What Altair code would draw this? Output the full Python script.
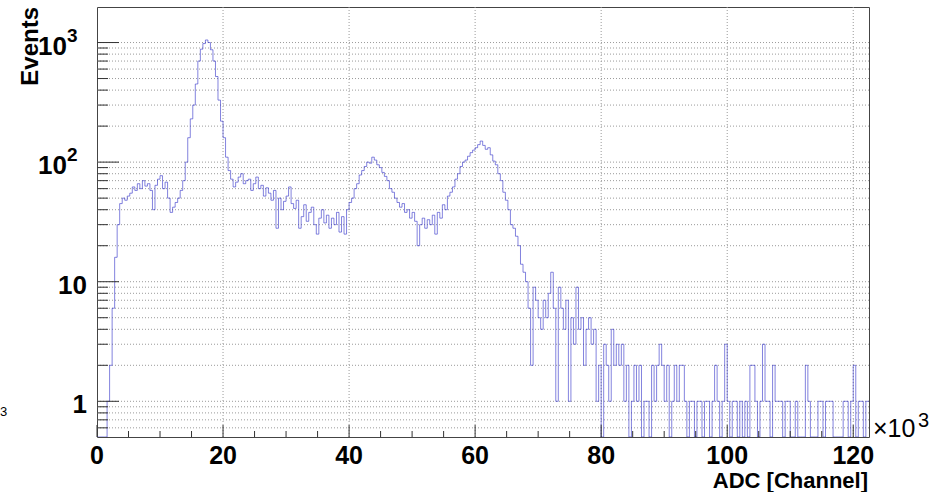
import altair as alt
import pandas as pd

# ---------------- data ----------------
BIN_WIDTH_K = 0.4  # bin width in units of 10^3 channels
COUNTS = [
    # 0-4k
    0, 0, 0, 0, 1, 2, 6, 16, 30, 45,
    # 4-8k
    50, 48, 52, 55, 62, 58, 66, 60, 70, 63,
    # 8-12k
    66, 58, 40, 64, 72, 77, 60, 68, 50, 38,
    # 12-16k
    42, 46, 50, 58, 70, 100, 160, 230, 300, 450,
    # 16-20k
    700, 880, 980, 1050, 1000, 870, 700, 520, 330, 220,
    # 20-24k
    160, 110, 85, 72, 62, 68, 75, 80, 66, 70,
    # 24-28k
    72, 58, 66, 75, 60, 64, 52, 61, 55, 48,
    # 28-32k
    58, 28, 50, 40, 47, 52, 62, 45, 41, 48,
    # 32-36k
    28, 35, 44, 32, 38, 42, 30, 25, 34, 40,
    # 36-40k
    31, 36, 28, 34, 30, 38, 26, 35, 25, 40,
    # 40-44k
    46, 50, 60, 66, 78, 85, 92, 100, 98, 110,
    # 44-48k
    104, 95, 90, 82, 76, 70, 60, 56, 50, 46,
    # 48-52k
    42, 45, 38, 40, 34, 38, 32, 20, 30, 34,
    # 52-56k
    28, 33, 30, 36, 25, 38, 34, 44, 40, 52,
    # 56-60k
    56, 62, 72, 80, 92, 100, 104, 112, 120, 126,
    # 60-64k
    132, 140, 150, 138, 128, 132, 115, 102, 95, 80,
    # 64-68k
    70, 56, 48, 40, 30, 28, 24, 20, 14, 12,
    # 68-72k
    10, 6, 2, 9, 7, 5, 4, 7, 5, 8,
    # 72-76k
    12, 6, 1, 9, 6, 4, 7, 1, 5, 3,
    # 76-80k
    9, 4, 5, 2, 4, 5, 3, 4, 1, 2,
    # 80-84k
    0, 3, 2, 1, 4, 2, 3, 2, 3, 1,
    # 84-88k
    2, 0, 1, 2, 1, 2, 0, 1, 1, 0,
    # 88-92k
    2, 1, 2, 3, 2, 1, 2, 0, 1, 2,
    # 92-96k
    1, 2, 2, 1, 0, 1, 1, 0, 1, 1,
    # 96-100k
    0, 1, 1, 0, 1, 2, 1, 0, 1, 3,
    # 100-104k
    1, 0, 1, 1, 0, 1, 0, 1, 0, 2,
    # 104-108k
    2, 1, 0, 1, 3, 1, 1, 0, 2, 1,
    # 108-112k
    1, 1, 0, 1, 1, 0, 0, 1, 0, 0,
    # 112-116k
    0, 2, 1, 0, 0, 0, 1, 1, 0, 1,
    # 116-120k
    1, 1, 0, 0, 0, 0, 1, 1, 0, 1,
    # 120-122.8k
    2, 0, 1, 1, 0, 1, 1,
]

X_LABELS = [0, 20, 40, 60, 80, 100, 120]
X_LABEL_TEXT = ["0", "20", "40", "60", "80", "100", "120"]
X_GRID = [20, 40, 60, 80, 100, 120]
X_MINOR = [5, 10, 15, 25, 30, 35, 45, 50, 55, 65, 70, 75, 85, 90, 95, 105, 110, 115]
Y_MAJOR = [1, 10, 100, 1000]
Y_MINOR = [0.6, 0.7, 0.8, 0.9,
           2, 3, 4, 5, 6, 7, 8, 9,
           20, 30, 40, 50, 60, 70, 80, 90,
           200, 300, 400, 500, 600, 700, 800, 900]
Y_LAB_PLAIN_V = [1, 10]
Y_LAB_PLAIN_T = ["1", "10"]
Y_LAB_POW_V = [100, 1000]
Y_LAB_POW_BASE = ["10", "10"]
Y_LAB_POW_EXP = ["2", "3"]
Y_TITLE = "Events"
X_TITLE = "ADC [Channel]"
X_MULT = "×10"
X_MULT_EXP = "3"
STRAY = "3"

# ---------------- build ----------------
lo = [round(i * BIN_WIDTH_K, 4) for i in range(len(COUNTS))]
vals = list(COUNTS)
# closing point so the last step has a right edge
lo.append(round(len(COUNTS) * BIN_WIDTH_K, 4))
vals.append(COUNTS[-1])
hist_df = pd.DataFrame({"lo": lo, "count": vals})
hist_df["v"] = [c if c > 0 else 0.3 for c in hist_df["count"]]

W, H = 772, 430
xscale = alt.Scale(domain=[0, 122.5], nice=False, zero=False)
yscale = alt.Scale(type="log", domain=[0.503, 1982], nice=False, clamp=True)

FONT = "Liberation Sans"
GRID = "#9a9a9a"
TICK = "#333333"

# grid lines
ygrid = alt.Chart(pd.DataFrame({"v": Y_MINOR + Y_MAJOR})).mark_rule(
    color=GRID, strokeWidth=1, strokeDash=[1, 2]
).encode(y=alt.Y("v:Q", scale=yscale, axis=None), x=alt.value(0), x2=alt.value(W))
xgrid = alt.Chart(pd.DataFrame({"x": X_GRID})).mark_rule(
    color=GRID, strokeWidth=1, strokeDash=[1, 2]
).encode(x=alt.X("x:Q", scale=xscale, axis=None), y=alt.value(0), y2=alt.value(H))

hist = alt.Chart(hist_df).mark_line(
    interpolate="step-after", clip=True, stroke="#3030c8",
    strokeWidth=1, opacity=0.6
).encode(
    x=alt.X("lo:Q", scale=xscale, axis=None),
    y=alt.Y("v:Q", scale=yscale, axis=None),
)

ymaj = alt.Chart(pd.DataFrame({"v": Y_MAJOR})).mark_rule(color=TICK, strokeWidth=1).encode(
    y=alt.Y("v:Q", scale=yscale, axis=None), x=alt.value(0), x2=alt.value(22))
ymin = alt.Chart(pd.DataFrame({"v": Y_MINOR})).mark_rule(color=TICK, strokeWidth=1).encode(
    y=alt.Y("v:Q", scale=yscale, axis=None), x=alt.value(0), x2=alt.value(11))
xmaj = alt.Chart(pd.DataFrame({"x": X_LABELS})).mark_rule(color=TICK, strokeWidth=1).encode(
    x=alt.X("x:Q", scale=xscale, axis=None), y=alt.value(H), y2=alt.value(H - 12))
xmin = alt.Chart(pd.DataFrame({"x": X_MINOR})).mark_rule(color=TICK, strokeWidth=1).encode(
    x=alt.X("x:Q", scale=xscale, axis=None), y=alt.value(H), y2=alt.value(H - 6))

xlab = alt.Chart(pd.DataFrame({"x": X_LABELS, "t": X_LABEL_TEXT})).mark_text(
    font=FONT, fontWeight="bold", fontSize=25, align="center", baseline="alphabetic",
    color="#000000"
).encode(x=alt.X("x:Q", scale=xscale, axis=None), y=alt.value(H + 27), text="t:N")

ylab_plain = alt.Chart(pd.DataFrame({"v": Y_LAB_PLAIN_V, "t": Y_LAB_PLAIN_T})).mark_text(
    font=FONT, fontWeight="bold", fontSize=26, align="right", baseline="alphabetic",
    dy=12, color="#000000"
).encode(y=alt.Y("v:Q", scale=yscale, axis=None), x=alt.value(-10), text="t:N")

ylab_base = alt.Chart(pd.DataFrame({"v": Y_LAB_POW_V, "t": Y_LAB_POW_BASE})).mark_text(
    font=FONT, fontWeight="bold", fontSize=26, align="right", baseline="alphabetic",
    dy=12, color="#000000"
).encode(y=alt.Y("v:Q", scale=yscale, axis=None), x=alt.value(-30), text="t:N")

ylab_exp = alt.Chart(pd.DataFrame({"v": Y_LAB_POW_V, "t": Y_LAB_POW_EXP})).mark_text(
    font=FONT, fontWeight="bold", fontSize=19, align="left", baseline="alphabetic",
    dy=-1, color="#000000"
).encode(y=alt.Y("v:Q", scale=yscale, axis=None), x=alt.value(-30), text="t:N")

txt_df = pd.DataFrame({"t": [Y_TITLE]})
ytitle = alt.Chart(txt_df).mark_text(
    font=FONT, fontWeight="bold", fontSize=24, angle=270, align="right",
    baseline="alphabetic", color="#000000"
).encode(x=alt.value(-59), y=alt.value(0), text=alt.value(Y_TITLE))

xtitle = alt.Chart(txt_df).mark_text(
    font=FONT, fontWeight="bold", fontSize=22, align="right",
    baseline="alphabetic", color="#000000"
).encode(x=alt.value(W - 1), y=alt.value(H + 51), text=alt.value(X_TITLE))

xmult = alt.Chart(txt_df).mark_text(
    font=FONT, fontSize=25, align="left", baseline="alphabetic", color="#000000"
).encode(x=alt.value(W + 4), y=alt.value(H), text=alt.value(X_MULT))

xmult_exp = alt.Chart(txt_df).mark_text(
    font=FONT, fontSize=20, align="left", baseline="alphabetic", color="#000000"
).encode(x=alt.value(W + 49), y=alt.value(H - 10), text=alt.value(X_MULT_EXP))

stray = alt.Chart(txt_df).mark_text(
    font=FONT, fontSize=13, align="left", baseline="alphabetic", color="#000000"
).encode(x=alt.value(-97), y=alt.value(409), text=alt.value(STRAY))

chart = alt.layer(
    ygrid, xgrid, hist, ymaj, ymin, xmaj, xmin, xlab, ylab_plain, ylab_base,
    ylab_exp, ytitle, xtitle, xmult, xmult_exp, stray
).properties(
    width=W, height=H,
    autosize=alt.AutoSizeParams(type="none"),
    padding={"left": 97, "top": 7, "right": 68, "bottom": 55},
    background="#ffffff",
).configure_view(stroke="#444444", strokeWidth=1)

chart.save("out.html", embed_options={"renderer": "svg", "actions": False})
